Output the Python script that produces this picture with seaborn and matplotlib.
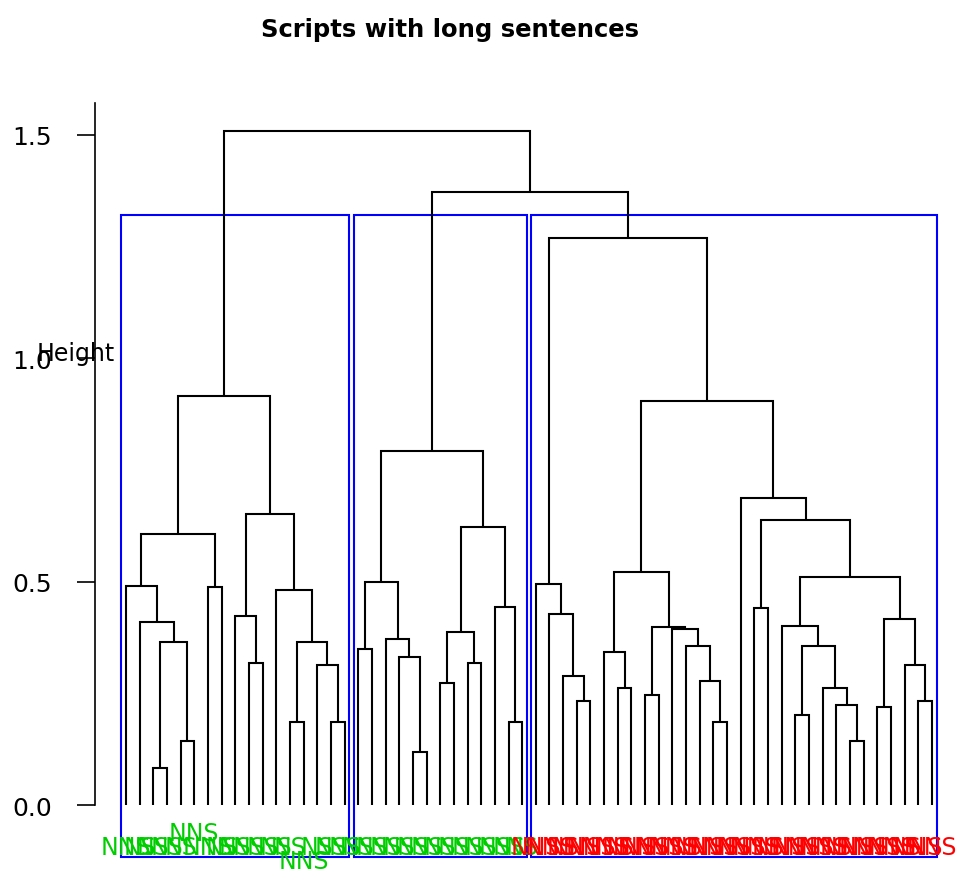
import matplotlib
matplotlib.use("Agg")
import matplotlib.pyplot as plt
from matplotlib.patches import Rectangle
import seaborn as sns

# Hierarchical clustering of 60 scripts; internal nodes are (left, right, height),
# leaves are indices into leaf_labels (already in dendrogram order).
cluster_1 = (
    (((0, (1, ((2, 3, 0.082), (4, 5, 0.144), 0.365), 0.409), 0.490), (6, 7, 0.489), 0.606),
     ((8, (9, 10, 0.319), 0.422),
      (11, ((12, 13, 0.185), (14, (15, 16, 0.185), 0.314), 0.365), 0.481), 0.651),
     0.915)
)
cluster_2 = (
    (((17, 18, 0.350), (19, (20, (21, 22, 0.118), 0.332), 0.372), 0.498),
     (((23, 24, 0.274), (25, 26, 0.319), 0.387), (27, (28, 29, 0.185), 0.444), 0.623),
     0.793)
)
cluster_3 = (
    ((30, (31, (32, (33, 34, 0.233), 0.288), 0.427), 0.494),
     (((35, (36, 37, 0.261), 0.342),
       ((38, 39, 0.246), (40, (41, (42, (43, 44, 0.185), 0.278), 0.355), 0.395), 0.399),
       0.521),
      (45, ((46, 47, 0.440),
            ((48, ((49, 50, 0.202), (51, (52, (53, 54, 0.144), 0.224), 0.261), 0.355), 0.400),
             ((55, 56, 0.220), (57, (58, 59, 0.234), 0.314), 0.417), 0.511), 0.637), 0.687),
      0.904),
     1.268)
)
upper_heights = [1.371, 1.508]
tree = (cluster_1, (cluster_2, cluster_3, upper_heights[0]), upper_heights[1])

leaf_labels = [
    "NNS", "NS", "NS", "NS", "NS", "NNS\n", "NNS", "NS", "NS", "NS",
    "NS", "NS", "NS", "\nNNS", "NS", "NS", "NS",
    "NS", "NS", "NS", "NS", "NS", "NS", "NS", "NS", "NS", "NS", "NS", "NS", "NS",
    "NNS", "NNS", "NS", "NNS", "NNS", "NNS", "NS", "NNS", "NNS", "NNS",
    "NNS", "NS", "NNS", "NNS", "NNS", "NNS", "NNS", "NS", "NNS", "NNS",
    "NNS", "NNS", "NS", "NNS", "NNS", "NNS", "NNS", "NS", "NNS", "NNS",
]
clusters = [cluster_1, cluster_2, cluster_3]
cluster_label_colors = ["#00CD00", "#00CD00", "#FF0000"]
rect_color = "#0000FF"

title = "Scripts with long sentences"
y_label = "Height"
y_ticks = [0.0, 0.5, 1.0, 1.5]

sns.set_style("white")
plt.rcParams["font.family"] = ["DejaVu Sans"]
plt.rcParams["text.color"] = "black"

fig = plt.figure(figsize=(9.6, 8.78), dpi=100)
y_bottom, y_top = -0.116, 1.5705
ax = fig.add_axes([95 / 960, 20 / 878, 865 / 960, 754 / 878])
ax.set_xlim(-2.269, 61.05)
ax.set_ylim(y_bottom, y_top)


def leaves_of(node):
    if isinstance(node, int):
        return [node]
    return leaves_of(node[0]) + leaves_of(node[1])


def draw(node):
    """Draw a subtree; return (x, height) of its top."""
    if isinstance(node, int):
        return float(node), 0.0
    lx, lh = draw(node[0])
    rx, rh = draw(node[1])
    h = node[2]
    ax.plot([lx, lx, rx, rx], [lh, h, h, rh], color="black", lw=1.5,
            solid_joinstyle="miter", solid_capstyle="butt")
    return (lx + rx) / 2, h


draw(tree)

# rectangles around the three clusters, cut between the two top merges
cut = (cluster_3[2] + upper_heights[0]) / 2
for cl, col in zip(clusters, cluster_label_colors):
    members = leaves_of(cl)
    x0, x1 = min(members) - 0.34, max(members) + 0.33
    ax.add_patch(Rectangle((x0, y_bottom), x1 - x0, cut - y_bottom, fill=False,
                           edgecolor=rect_color, lw=1.5, clip_on=False))
    for i in members:
        ax.text(i, -0.094, leaf_labels[i], color=col, ha="center", va="center",
                fontsize=17, clip_on=False)

sns.despine(ax=ax, top=True, right=True, bottom=True, left=False)
ax.spines["left"].set_bounds(0, y_top)
ax.spines["left"].set_linewidth(1.2)
ax.spines["left"].set_color("black")
ax.set_xticks([])
ax.set_yticks(y_ticks)
ax.set_yticklabels([f"{t:.1f}" for t in y_ticks])
ax.tick_params(axis="y", direction="out", length=13, width=1.2, pad=18,
               labelsize=18, left=True, color="black", labelcolor="black")

fig.text(37 / 960, 1 - 354 / 878, y_label, ha="left", va="center", fontsize=17,
         color="black")
fig.text(450 / 960, 1 - 30 / 878, title, ha="center", va="center",
         fontsize=17.5, fontweight="bold", color="black")

fig.savefig("out.png", dpi=100)
